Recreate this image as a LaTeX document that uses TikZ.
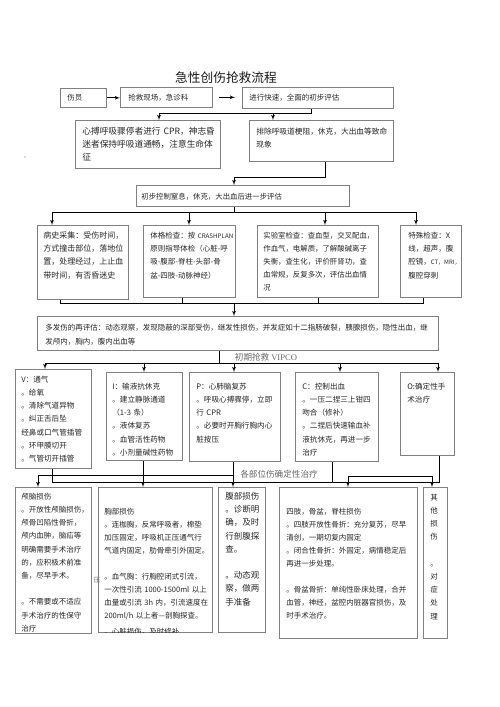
\documentclass[tikz,border=0pt]{standalone}
\usepackage{fontspec}
\setmainfont{Noto Sans CJK SC}
\newfontfamily\latina{Liberation Serif}
\usetikzlibrary{arrows}
\exhyphenpenalty=10000
\hyphenpenalty=10000
\tikzstyle{caja}=[draw=black!50, line width=0.7pt, rectangle, anchor=north west,
align=left, inner ysep=0pt, text=black!85, font=\fontsize{7.5}{13.2}\selectfont]
\tikzstyle{union}=[coordinate]
\tikzstyle{etiqueta}=[text=black!60, inner sep=0pt, font=\fontsize{8.6}{10}\selectfont]
\tikzstyle{titulo}=[inner sep=0pt, text=black!90, font=\fontsize{12.7}{15}\selectfont]
\tikzstyle{marca}=[inner sep=0pt, text=black!60, font=\fontsize{6.5}{8}\selectfont]

\begin{document}
\begin{tikzpicture}[x=1pt, y=-1pt, auto, >=latex', line width=0.75pt]
		\useasboundingbox (0,0) rectangle (500,707);
		\node[titulo] (titulo) at (226,78) {急性创伤抢救流程};
		\node[marca] (coma) at (25,158) {,};
		\node[marca] (presion) at (97,580) {压};
		% primera fila
		\node[caja, inner xsep=7pt, text width=32pt, text height=12.4pt, text depth=6.6pt] (herido) at (60,88) {伤员};
		\node[caja, inner xsep=8pt, text width=76pt, text height=13.4pt, text depth=6.6pt] (escena) at (120,87) {抢救现场，急诊科};
		\node[caja, inner xsep=7pt, text width=137pt, text height=13.4pt, text depth=7.6pt] (evaluacion) at (242,87) {进行快速，全面的初步评估};
		\draw[->] (herido.east) -- (herido.east -| escena.west);
		\draw[->, shorten <=6pt, shorten >=7pt] (escena.east) -- (escena.east -| evaluacion.west);
		% reanimacion inicial
		\node[caja, inner xsep=7pt, text width=131pt, text height=14.3pt, text depth=33.7pt, font=\fontsize{8.7}{13}\selectfont] (rcp) at (75,120) {心搏呼吸骤停者进行~CPR，神志昏\\迷者保持呼吸道通畅，注意生命体\\征};
		\node[caja, inner xsep=7pt, text width=130pt, text height=13.9pt, text depth=27.1pt, font=\fontsize{7.7}{13}\selectfont] (obstruccion) at (249,120) {排除呼吸道梗阻，休克，大出血等致命\\现象};
		\node[union] (u1) at (159,113) {};
		\node[union] (u2) at (311,113) {};
		\node[union] (u3) at (273,113) {};
		\draw (evaluacion.south -| u2) -- (u2) -- (u1);
		\draw[->] (u1) -- (rcp.north -| u1);
		\draw[->] (u3) -- (obstruccion.north -| u3);
		\node[caja, inner xsep=5pt, text width=203pt, text height=13.8pt, text depth=7.2pt, font=\fontsize{7.4}{13}\selectfont] (control) at (136,185) {初步控制窒息，休克，大出血后进一步评估};
		\node[union] (u4) at (325,177) {};
		\node[union] (u5) at (234,177) {};
		\draw (obstruccion.south -| u4) -- (u4) -- (u5);
		\draw[->] (u5) -- (control.north -| u5);
		% examenes
		\node[caja, inner xsep=6pt, text width=79pt, text height=13pt, text depth=61pt, font=\fontsize{8}{13.3}\selectfont] (historia) at (37,225) {病史采集：受伤时间，\\方式撞击部位，落地位\\置，处理经过，上止血\\带时间，有否昏迷史};
		\node[caja, inner xsep=7pt, text width=78pt, text height=12.9pt, text depth=59.1pt, font=\fontsize{7.5}{13.3}\selectfont] (fisico) at (143,225) {体格检查：按~{\fontsize{6.2}{13.3}\selectfont CRASHPLAN}\\原则指导体检（心脏-呼\\吸-腹部-脊柱-头部-骨\\盆-四肢-动脉神经）};
		\node[caja, inner xsep=6pt, text width=109pt, text height=12.8pt, text depth=59.2pt, font=\fontsize{7.4}{13}\selectfont] (laboratorio) at (257,225) {实验室检查：查血型，交叉配血，\\作血气，电解质，了解酸碱离子\\失衡，查生化，评价肝肾功，查\\血常规，反复多次，评估出血情\\况};
		\node[caja, inner xsep=8pt, text width=45pt, text height=12.9pt, text depth=59.1pt, font=\fontsize{7.5}{13.3}\selectfont] (especial) at (400,225) {特殊检查：X\\线，超声，腹\\腔镜，{\fontsize{6}{13.3}\selectfont CT，MRI，}\\腹腔穿刺};
		\node[union] (u6) at (234,212) {};
		\node[union] (u7) at (52,212) {};
		\node[union] (u8) at (189,212) {};
		\node[union] (u9) at (325,212) {};
		\node[union] (u10) at (416,212) {};
		\draw (control.south -| u6) -- (u6);
		\draw (u7) -- (u10);
		\draw[->] (u7) -- (historia.north -| u7);
		\draw[->] (u8) -- (fisico.north -| u8);
		\draw[->] (u9) -- (laboratorio.north -| u9);
		\draw[->] (u10) -- (especial.north -| u10);
		% reevaluacion
		\node[caja, inner xsep=8pt, text width=385pt, text height=13.9pt, text depth=20.1pt, font=\fontsize{7.5}{14}\selectfont] (reevaluacion) at (37,316) {多发伤的再评估：动态观察，发现隐蔽的深部受伤，继发性损伤，并发症如十二指肠破裂，胰腺损伤，隐性出血，继\\发颅内，胸内，腹内出血等};
		\node[union] (u11) at (60,303) {};
		\node[union] (u12) at (182,303) {};
		\node[union] (u13) at (318,303) {};
		\node[union] (u14) at (423,303) {};
		\node[union] (u15) at (234,303) {};
		\draw (historia.south -| u11) -- (u11) -- (u14) -- (especial.south -| u14);
		\draw (fisico.south -| u12) -- (u12);
		\draw (laboratorio.south -| u13) -- (u13);
		\draw[->] (u15) -- (reevaluacion.north -| u15);
		% VIPCO
		\node[etiqueta] (vipco) at (266,357) {初期抢救 {\latina VIPCO}};
		\node[caja, inner xsep=6pt, text width=64pt, text height=12.9pt, text depth=86.1pt, font=\fontsize{7.6}{13.2}\selectfont] (ventilacion) at (15,369) {V：通气\\。给氧\\。清除气道异物\\。纠正舌后坠\\经鼻或口气管插管\\。环甲膜切开\\。气管切开插管};
		\node[caja, inner xsep=6pt, text width=64pt, text height=16.9pt, text depth=71.1pt, font=\fontsize{7.6}{13.2}\selectfont] (infusion) at (106,372) {I：输液抗休克\\。建立静脉通道\\（1-3~条）\\。液体复苏\\。血管活性药物\\。小剂量碱性药物};
		\node[caja, inner xsep=7pt, text width=77pt, text height=16.9pt, text depth=72.1pt, font=\fontsize{7.6}{13.2}\selectfont] (reanimacion) at (189,372) {P：心肺脑复苏\\。呼吸心搏骤停，立即\\行~CPR\\。必要时开胸行胸内心\\脏按压};
		\node[caja, inner xsep=7pt, text width=69pt, text height=16.9pt, text depth=72.1pt, font=\fontsize{7.6}{13.2}\selectfont] (hemorragia) at (295,372) {C：控制出血\\。一压二捏三上钳四\\吻合（修补）\\。二捏后快速输血补\\液抗休克，再进一步\\治疗};
		\node[caja, inner xsep=7pt, text width=40pt, text height=16.9pt, text depth=66.1pt, font=\fontsize{7.6}{13.2}\selectfont] (operacion) at (400,372) {O:确定性手\\术治疗};
		\node[union] (u16) at (219,363) {};
		\node[union] (u17) at (45,363) {};
		\node[union] (u18) at (144,363) {};
		\node[union] (u19) at (234,363) {};
		\node[union] (u20) at (340,363) {};
		\node[union] (u21) at (438,363) {};
		\draw (reevaluacion.south -| u16) -- (u16);
		\draw (u17) -- (u21);
		\draw[->] (u17) -- (ventilacion.north -| u17);
		\draw[->] (u18) -- (infusion.north -| u18);
		\draw[->] (u19) -- (reanimacion.north -| u19);
		\draw[->] (u20) -- (hemorragia.north -| u20);
		\draw[->] (u21) -- (operacion.north -| u21);
		% tratamiento definitivo
		\node[etiqueta] (definitivo) at (279,474) {各部位伤确定性治疗};
		\node[caja, inner xsep=6pt, text width=64pt, text height=11.9pt, text depth=134.1pt] (craneo) at (15,487) {颅脑损伤\\。开放性颅脑损伤，\\颅骨凹陷性骨折，\\颅内血肿，脑疝等\\明确需要手术治疗\\的，应积极术前准\\备，尽早手术。\\[13.2pt]。不需要或不适应\\手术治疗的性保守\\治疗};
		\begin{scope}
			\clip (97,486) rectangle (213,632.4);
			\node[caja, inner xsep=6pt, text width=102pt, text height=26.9pt, text depth=118.1pt, font=\fontsize{7.5}{13}\selectfont] (torax) at (98,487) {胸部损伤\\。连枷胸，反常呼吸者，棉垫\\加压固定，呼吸机正压通气行\\气道内固定，肋骨牵引外固定。\\[13pt]。血气胸：行胸腔闭式引流，\\一次性引流~1000-1500ml~以上\\血量或引流~3h~内，引流速度在\\200ml/h~以上者—剖胸探查。\\[3pt]。心脏损伤，及时修补};
		\end{scope}
		\node[caja, inner xsep=7pt, text width=33pt, text height=12.2pt, text depth=132.8pt, font=\fontsize{8.5}{13.2}\selectfont] (abdomen) at (218,487) {腹部损伤\\。诊断明\\确，及时\\行剖腹探\\查。\\[13.2pt]。动态观\\察，做两\\手准备};
		\node[caja, inner xsep=7pt, text width=124pt, text height=26.9pt, text depth=124.1pt, font=\fontsize{7.5}{13}\selectfont] (miembros) at (279,487) {四肢，骨盆，脊柱损伤\\。四肢开放性骨折：充分复苏，尽早\\清创，一期切复内固定\\。闭合性骨折：外固定，病情稳定后\\再进一步处理。\\[13pt]。骨盆骨折：单纯性卧床处理，合并\\血管，神经，盆腔内脏器官损伤，及\\时手术治疗。};
		\node[caja, inner xsep=7pt, text width=10pt, text height=12.9pt, text depth=138.1pt] (otros) at (423,487) {其\\他\\损\\伤\\[13.2pt]。\\对\\症\\处\\理};
		\node[union] (u22) at (52,482) {};
		\node[union] (u23) at (439,482) {};
		\node[union] (u24) at (332,482) {};
		\node[union] (u25) at (38,475) {};
		\node[union] (u26) at (233,475) {};
		\node[union] (u27) at (143,475) {};
		\node[union] (u28) at (348,476) {};
		\node[union] (u29) at (432,476) {};
		\draw (ventilacion.south -| u22) -- (u22) -- (u23) -- (operacion.south -| u23);
		\draw (hemorragia.south -| u24) -- (u24);
		\draw (u25) -- (u26);
		\draw[->] (u25) -- (craneo.north -| u25);
		\draw[->] (infusion.south -| u27) -- (torax.north -| u27);
		\draw[->] (reanimacion.south -| u26) -- (abdomen.north -| u26);
		\draw (u28) -- (u29);
		\draw[->] (u28) -- (miembros.north -| u28);
		\draw[->] (u29) -- (otros.north -| u29);
	\end{tikzpicture}
\end{document}
